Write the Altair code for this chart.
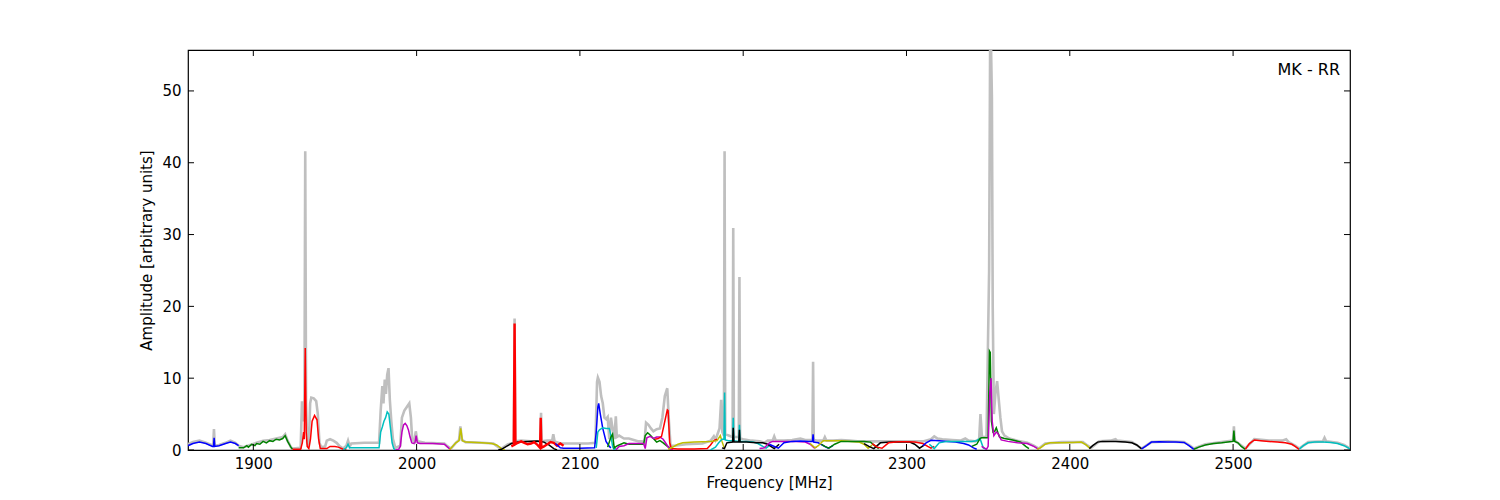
import altair as alt
import pandas as pd

# ---------------- data ----------------
X_MIN, X_MAX = 1860, 2571.6
Y_MIN, Y_MAX = 0, 55.7
X_TICKS = [1900, 2000, 2100, 2200, 2300, 2400, 2500]
Y_TICKS = [0, 10, 20, 30, 40, 50]
LABEL = "MK - RR"
X_TITLE = "Frequency [MHz]"
Y_TITLE = "Amplitude [arbitrary units]"

# raw spectrum (grey)
GRAY_F = [1860, 1863, 1867, 1871, 1875.4, 1875.9, 1876.4, 1879, 1883, 1886, 1889, 1891, 1894, 1898,
          1902, 1906, 1910, 1914, 1918, 1919.5, 1921, 1923, 1924, 1929, 1929.8, 1930.5, 1931.3, 1931.8,
          1932.3, 1933, 1934, 1934.8, 1935.5, 1937, 1938.5, 1939.5, 1940.5, 1941.5, 1944, 1945, 1947,
          1949, 1951, 1953, 1955, 1957, 1958, 1959, 1960, 1968, 1977, 1978, 1979, 1979.7, 1980.5,
          1981.2, 1982, 1982.8, 1983.6, 1984.5, 1985.5, 1987, 1990, 1991, 1992.5, 1994, 1995.5,
          1996.5, 1997.3, 1998.5, 1999.5, 2000.5, 2005, 2017, 2019, 2021, 2024, 2026, 2026.8, 2027.8,
          2030, 2040, 2047, 2050, 2052, 2056, 2059.6, 2060, 2060.4, 2064, 2070, 2075.8, 2076.2,
          2076.6, 2080, 2083, 2083.7, 2084.5, 2088, 2095, 2105, 2109.5, 2110.5, 2111, 2112, 2113,
          2114, 2115, 2116, 2117, 2118, 2119, 2120, 2121, 2122, 2122.6, 2124, 2127, 2130, 2133, 2136,
          2138, 2139.5, 2140.5, 2142, 2143.5, 2145, 2147, 2149, 2150.5, 2152, 2153.5, 2154.5, 2155.5,
          2158, 2165, 2175, 2180, 2182, 2183, 2185.5, 2186.5, 2187.2, 2188.2, 2188.6, 2189, 2193.5,
          2193.9, 2194.3, 2197.3, 2197.7, 2198.1, 2200, 2205, 2210, 2213, 2215, 2218, 2219, 2220,
          2225, 2230, 2235, 2238, 2242.4, 2242.8, 2243.2, 2246, 2249, 2250, 2251, 2255, 2260, 2265,
          2270, 2280, 2290, 2300, 2305, 2310, 2315, 2317, 2319, 2322, 2328, 2333, 2336, 2338, 2342,
          2344.5, 2345.3, 2346.2, 2349, 2350.6, 2351.2, 2351.8, 2352.3, 2352.8, 2353.5, 2354.5,
          2355.5, 2356.5, 2357.5, 2358.5, 2360, 2363, 2368, 2374, 2378, 2381, 2385, 2395, 2408, 2411,
          2413, 2418, 2425, 2428, 2429, 2438, 2441, 2444, 2450, 2460, 2470, 2473, 2476, 2483, 2493,
          2500, 2500.5, 2501, 2504, 2507.5, 2513, 2522, 2530, 2532.5, 2534, 2538, 2540.5, 2546, 2555,
          2556, 2557, 2564, 2568, 2571.6]
GRAY_A = [0.8, 1.1, 1.3, 1.0, 0.6, 2.9, 0.6, 0.7, 1.0, 1.3, 1.0, 0.6, 0.4, 0.7,
          1.0, 1.3, 1.4, 1.6, 1.8, 2.2, 1.3, 0.4, 0.2, 0.3, 6.8, 4.0, 6.0, 41.6,
          6.5, 1.0, 0.5, 6.5, 7.3, 7.2, 6.8, 5.0, 1.0, 0.4, 0.5, 1.3, 1.5,
          1.3, 1.0, 0.5, 0.2, 0.6, 1.3, 0.5, 0.9, 1.0, 1.0, 5.5, 8.9, 6.5, 9.8,
          7.8, 10.5, 11.4, 7.0, 4.0, 1.5, 0.3, 0.6, 4.5, 5.5, 6.0, 6.5,
          4.5, 1.5, 1.1, 2.6, 1.2, 1.0, 0.9, 0.5, 0.2, 1.0, 1.4, 3.3, 1.4,
          1.1, 1.0, 0.9, 0.4, 0.2, 0.8, 1.0, 18.3, 1.2, 1.3, 1.2, 1.2, 5.2,
          1.2, 1.3, 1.3, 2.2, 1.2, 0.9, 0.9, 0.9, 1.0, 9.5, 10.1, 9.5, 7.5,
          6.5, 4.5, 4.3, 4.6, 1.5, 4.5, 3.0, 1.5, 4.7, 1.8, 2.0, 1.6, 1.6, 1.4, 1.2,
          1.2, 1.0, 3.8, 3.5, 3.0, 2.6, 2.9, 3.0, 4.5, 7.5, 8.6, 4.0, 0.6,
          0.6, 0.8, 0.9, 1.3, 1.9, 1.4, 3.0, 7.0, 2.5, 2.0, 41.6, 2.2, 1.8,
          30.9, 1.8, 1.8, 24.1, 1.6, 1.5, 1.3, 1.2, 1.0, 1.3, 1.3, 1.9, 1.3,
          1.3, 1.4, 1.6, 1.4, 1.4, 12.3, 1.4, 1.3, 1.3, 1.8, 1.3, 1.3, 1.4, 1.3,
          1.2, 1.2, 1.2, 1.2, 1.2, 1.2, 1.5, 1.9, 1.6, 1.5, 1.4, 1.3, 1.6, 1.3, 1.2,
          1.5, 5.0, 1.8, 1.8, 25.0, 55.7, 55.7, 49.2, 20.0, 5.0, 8.0,
          9.6, 7.0, 4.5, 2.6, 2.0, 1.6, 1.3, 1.0, 0.6, 0.2, 0.9, 1.1, 1.1, 0.6,
          0.3, 1.2, 1.3, 1.5, 1.3, 1.1, 0.7, 0.2, 1.1, 1.2, 1.1, 0.7, 0.2, 0.8, 1.1,
          1.3, 3.3, 1.3, 0.8, 0.2, 1.5, 1.3, 1.3, 1.5, 1.1, 0.6, 0.2, 1.1, 1.2,
          1.7, 1.2, 1.0, 0.7, 0.2]

# calibrated sub-bands (colour cycle b, g, r, c, m, y, k)
SEG_COLORS = ["b", "g", "r", "c", "m", "y", "k", "r", "b", "c", "g", "m", "r", "y", "c", "k",
              "m", "b", "y", "g", "k", "r", "b", "c", "g", "m", "y", "k", "b", "g", "r", "c"]
SEG_WIDTHS = [1.5] * 7 + [2.4] + [1.5] * 24
SEG_F = [
    [1860, 1863, 1867, 1871, 1875, 1875.6, 1876, 1876.4, 1879, 1883, 1886, 1889, 1891],
    [1891, 1894, 1896, 1897, 1899, 1901, 1902, 1904, 1906, 1908, 1910, 1912, 1914, 1916, 1918, 1919.5, 1921, 1923, 1924],
    [1924, 1929, 1930, 1930.8, 1931.2, 1931.8, 1932.4, 1933, 1934, 1935, 1936, 1937.5, 1939, 1940, 1941, 1945, 1947, 1950, 1952, 1955, 1957],
    [1955, 1957, 1958, 1959, 1960, 1970, 1977, 1978, 1979, 1980, 1981, 1982, 1983, 1984, 1985, 1986, 1987],
    [1987, 1989, 1990, 1991, 1992, 1993, 1994, 1995, 1996, 1997, 1998, 1999, 1999.7, 2000.5, 2002, 2010, 2017, 2019, 2021],
    [2020, 2022, 2024, 2026, 2027, 2028, 2030, 2040, 2046, 2049, 2052, 2054],
    [2050, 2052, 2055, 2058, 2062, 2068, 2074, 2078, 2081, 2084, 2086],
    [2058, 2059.5, 2060, 2060.5, 2062, 2064, 2066, 2068, 2070, 2072, 2074, 2075.6, 2076, 2076.4, 2078, 2080, 2082, 2084, 2086, 2088, 2090],
    [2085, 2086, 2088, 2090, 2100, 2109, 2110, 2111, 2111.5, 2112.5, 2114, 2116, 2118, 2119],
    [2110, 2111, 2112, 2114, 2116, 2118, 2119, 2120, 2121, 2122],
    [2117, 2119, 2120, 2121, 2123, 2127, 2130, 2135, 2139, 2140, 2141.5, 2143, 2145, 2147, 2149, 2151, 2153, 2155],
    [2122, 2124, 2127, 2130, 2135, 2139, 2140, 2141, 2143, 2145, 2147, 2149, 2151, 2153, 2155, 2157],
    [2146, 2148, 2150, 2152, 2153.5, 2154, 2155, 2156, 2160, 2170, 2178, 2180, 2182, 2184],
    [2154, 2156, 2160, 2163, 2170, 2180, 2184, 2186, 2187, 2188.5],
    [2180, 2183, 2185, 2187, 2188.2, 2188.6, 2189, 2191, 2193.5, 2193.9, 2194.3, 2197.3, 2197.7, 2198.1, 2202, 2206, 2209, 2212, 2214, 2216],
    [2187, 2188.5, 2190, 2193.5, 2193.9, 2194.3, 2197.3, 2197.7, 2198.1, 2202, 2208, 2212, 2215, 2219, 2222],
    [2210, 2213, 2216, 2218, 2225, 2232, 2238, 2241, 2243.5, 2245],
    [2216, 2218, 2221.5, 2225, 2230, 2235, 2240, 2242.4, 2242.8, 2243.2, 2246, 2249, 2252, 2255],
    [2241, 2244, 2246, 2249, 2255, 2260, 2266, 2271, 2274, 2276.5, 2279],
    [2248, 2250, 2252.5, 2256, 2260, 2268, 2274, 2278, 2281, 2283],
    [2274, 2277, 2280, 2284, 2290, 2296, 2302, 2305, 2308, 2311],
    [2279, 2282, 2285, 2289, 2295, 2300, 2305, 2310, 2313, 2315, 2317],
    [2310, 2312, 2315, 2320, 2325, 2330, 2335, 2338, 2341, 2343],
    [2314, 2317, 2320, 2325, 2330, 2335, 2340, 2343, 2345, 2347, 2349],
    [2340, 2343, 2345, 2346, 2350, 2350.8, 2351.3, 2352, 2353, 2354, 2355, 2356, 2357, 2360, 2365, 2370, 2373, 2375],
    [2346, 2349, 2350, 2351, 2351.8, 2352.5, 2353.5, 2355, 2356, 2358, 2362, 2368, 2374, 2378, 2381],
    [2380, 2382, 2385, 2388, 2395, 2402, 2407, 2410, 2412.5],
    [2412, 2414, 2417, 2420, 2428, 2434, 2438, 2441, 2444],
    [2444, 2447, 2450, 2455, 2460, 2465, 2470, 2473, 2476],
    [2476, 2479, 2483, 2488, 2493, 2498, 2500, 2500.5, 2501, 2503, 2505, 2507.5],
    [2507.5, 2510, 2513, 2517, 2522, 2527, 2532, 2536, 2538, 2540.5],
    [2540.5, 2543, 2546, 2550, 2555, 2560, 2564, 2568, 2571.6],
]
SEG_A = [
    [0.6, 0.9, 1.1, 0.9, 0.5, 0.5, 1.7, 0.5, 0.6, 0.9, 1.1, 0.9, 0.6],
    [0.3, 0.3, 0.6, 0.4, 0.8, 0.6, 0.9, 0.8, 1.2, 1.0, 1.3, 1.2, 1.5, 1.4, 1.6, 2.0, 1.2, 0.4, 0.1],
    [0.1, 0.1, 1.0, 2.5, 1.5, 14.2, 2.5, 0.5, 0.2, 1.5, 4.0, 4.8, 4.2, 1.5, 0.2, 0.2, 0.5, 0.5, 0.4, 0.1, 0.0],
    [0.0, 0.3, 0.8, 0.3, 0.3, 0.3, 0.3, 2.5, 3.2, 4.0, 4.5, 5.3, 5.0, 3.0, 1.0, 0.2, 0.0],
    [0.0, 0.1, 0.5, 2.5, 3.5, 3.7, 3.4, 2.8, 1.8, 1.0, 0.9, 1.0, 2.0, 1.0, 0.9, 0.9, 0.8, 0.4, 0.0],
    [0.0, 0.5, 1.0, 1.3, 3.0, 1.3, 1.1, 1.0, 0.9, 0.7, 0.2, 0.0],
    [0.0, 0.1, 0.5, 0.9, 1.1, 1.2, 1.25, 1.1, 0.7, 0.2, 0.0],
    [0.5, 0.7, 17.6, 0.8, 1.0, 1.2, 1.0, 0.8, 0.9, 1.1, 0.7, 0.3, 4.5, 0.3, 0.5, 0.8, 1.1, 1.0, 0.6, 0.9, 0.6],
    [0.9, 0.7, 0.3, 0.25, 0.25, 0.3, 2.5, 6.0, 6.5, 5.0, 3.0, 1.2, 0.5, 0.3],
    [0.3, 2.5, 2.8, 3.1, 3.0, 3.0, 2.0, 0.5, 0.0, 0.3],
    [0.4, 1.8, 2.2, 0.3, 0.6, 1.0, 0.8, 0.8, 0.8, 2.0, 2.4, 2.1, 1.6, 1.1, 1.3, 1.0, 0.6, 0.3],
    [0.0, 0.5, 0.6, 0.9, 0.9, 0.9, 0.2, 1.7, 1.9, 1.6, 1.8, 1.8, 1.5, 0.8, 0.1, 0.0],
    [1.5, 1.6, 1.9, 4.0, 5.6, 5.5, 1.0, 0.2, 0.15, 0.15, 0.2, 0.7, 1.3, 1.5],
    [0.1, 0.3, 0.8, 1.0, 1.1, 1.2, 1.3, 2.0, 1.2, 0.2],
    [0.0, 0.4, 1.0, 1.5, 1.5, 8.0, 1.4, 1.3, 1.3, 4.5, 1.3, 1.2, 3.5, 1.2, 1.2, 1.1, 0.9, 0.5, 0.25, 0.6],
    [0.3, 0.2, 1.0, 1.1, 3.1, 1.1, 1.1, 2.8, 1.1, 1.1, 1.0, 1.0, 0.8, 0.2, 0.8],
    [0.2, 0.3, 1.0, 1.2, 1.2, 1.2, 1.1, 0.8, 0.3, 0.4],
    [0.8, 0.6, 0.25, 1.0, 1.2, 1.25, 1.2, 1.2, 2.2, 1.1, 1.0, 0.6, 0.25, 0.6],
    [0.9, 0.3, 0.6, 1.3, 1.3, 1.3, 1.2, 1.1, 0.8, 0.25, 0.7],
    [0.8, 0.5, 0.25, 0.8, 1.2, 1.2, 1.2, 1.1, 0.5, 0.2],
    [0.9, 0.5, 0.2, 1.0, 1.1, 1.1, 1.1, 0.8, 0.25, 0.7],
    [0.9, 0.4, 0.25, 1.0, 1.15, 1.15, 1.1, 0.9, 0.5, 0.25, 0.5],
    [0.6, 1.0, 1.35, 1.3, 1.2, 1.1, 0.9, 0.7, 0.3, 0.1],
    [0.8, 0.2, 1.0, 1.2, 1.2, 1.2, 1.2, 1.3, 1.6, 0.3, 0.1],
    [0.5, 0.8, 1.6, 1.7, 1.7, 13.8, 13.6, 4.0, 2.5, 2.6, 3.1, 2.4, 1.8, 1.6, 1.4, 1.1, 0.5, 0.2],
    [0.5, 0.1, 0.5, 8.0, 10.0, 4.0, 2.0, 2.5, 2.3, 1.4, 1.2, 1.0, 0.9, 0.5, 0.1],
    [0.1, 0.3, 0.8, 1.0, 1.0, 1.05, 1.1, 0.7, 0.2],
    [0.2, 0.6, 1.1, 1.2, 1.2, 1.1, 1.0, 0.7, 0.15],
    [0.15, 0.6, 1.1, 1.15, 1.1, 1.1, 1.05, 0.6, 0.1],
    [0.1, 0.4, 0.7, 0.9, 1.0, 1.15, 1.2, 2.7, 1.2, 1.0, 0.5, 0.1],
    [0.1, 0.9, 1.4, 1.3, 1.2, 1.1, 1.0, 0.8, 0.5, 0.1],
    [0.1, 0.6, 1.0, 1.1, 1.1, 1.05, 0.9, 0.6, 0.15],
]

# ---------------- styling ----------------
COLOR_MAP = {"b": "#0000ff", "g": "#008000", "r": "#ff0000", "c": "#00bfbf",
             "m": "#bf00bf", "y": "#bfbf00", "k": "#000000"}
FONT = "DejaVu Sans"
W, H = 1162, 400

gray_df = pd.DataFrame({"f": GRAY_F, "a": GRAY_A})
rows = []
for i, (fs, as_) in enumerate(zip(SEG_F, SEG_A)):
    for f, a in zip(fs, as_):
        rows.append({"seg": i, "f": f, "a": a, "col": COLOR_MAP[SEG_COLORS[i]], "sw": SEG_WIDTHS[i]})
seg_df = pd.DataFrame(rows)

xscale = alt.Scale(domain=[X_MIN, X_MAX], nice=False, zero=False)
yscale = alt.Scale(domain=[Y_MIN, Y_MAX], nice=False, zero=True)

xaxis = alt.Axis(values=X_TICKS, format="d", ticks=False, domain=False, grid=False,
                 labelPadding=6, title=X_TITLE, titlePadding=4)
yaxis = alt.Axis(values=Y_TICKS, format="d", ticks=False, domain=False, grid=False,
                 labelPadding=7, title=Y_TITLE, titlePadding=7)

gray = alt.Chart(gray_df).mark_line(color="#bfbfbf", strokeWidth=2.6, clip=True).encode(
    x=alt.X("f:Q", scale=xscale, axis=xaxis),
    y=alt.Y("a:Q", scale=yscale, axis=yaxis),
)

colored = alt.Chart(seg_df).mark_line(clip=True).encode(
    x=alt.X("f:Q", scale=xscale),
    y=alt.Y("a:Q", scale=yscale),
    detail="seg:N",
    color=alt.Color("col:N", scale=None),
    strokeWidth=alt.StrokeWidth("sw:Q", scale=None),
    order=alt.Order("f:Q"),
)

xt_df = pd.DataFrame({"f": X_TICKS})
yt_df = pd.DataFrame({"a": Y_TICKS})
TL = 6
xt_bottom = alt.Chart(xt_df).mark_rule(color="black", strokeWidth=1).encode(
    x=alt.X("f:Q", scale=xscale), y=alt.value(H), y2=alt.value(H - TL))
xt_top = alt.Chart(xt_df).mark_rule(color="black", strokeWidth=1).encode(
    x=alt.X("f:Q", scale=xscale), y=alt.value(0), y2=alt.value(TL))
yt_left = alt.Chart(yt_df).mark_rule(color="black", strokeWidth=1).encode(
    y=alt.Y("a:Q", scale=yscale), x=alt.value(0), x2=alt.value(TL))
yt_right = alt.Chart(yt_df).mark_rule(color="black", strokeWidth=1).encode(
    y=alt.Y("a:Q", scale=yscale), x=alt.value(W), x2=alt.value(W - TL))

label = alt.Chart(pd.DataFrame({"t": [LABEL]})).mark_text(
    align="right", baseline="middle", font=FONT, fontSize=16, color="black"
).encode(text="t:N", x=alt.value(W - 10), y=alt.value(20))

chart = alt.layer(gray, colored, xt_bottom, xt_top, yt_left, yt_right, label).properties(
    width=W, height=H,
    padding={"left": 180, "top": 42, "right": 20, "bottom": 48},
    autosize=alt.AutoSizeParams(type="none"),
    background="white",
).configure_view(stroke="black", strokeWidth=1.2).configure_axis(
    labelFont=FONT, titleFont=FONT, labelFontSize=15, titleFontSize=15,
    labelColor="black", titleColor="black", titleFontWeight="normal",
)

chart.save("out.html", embed_options={"renderer": "svg", "actions": False})
